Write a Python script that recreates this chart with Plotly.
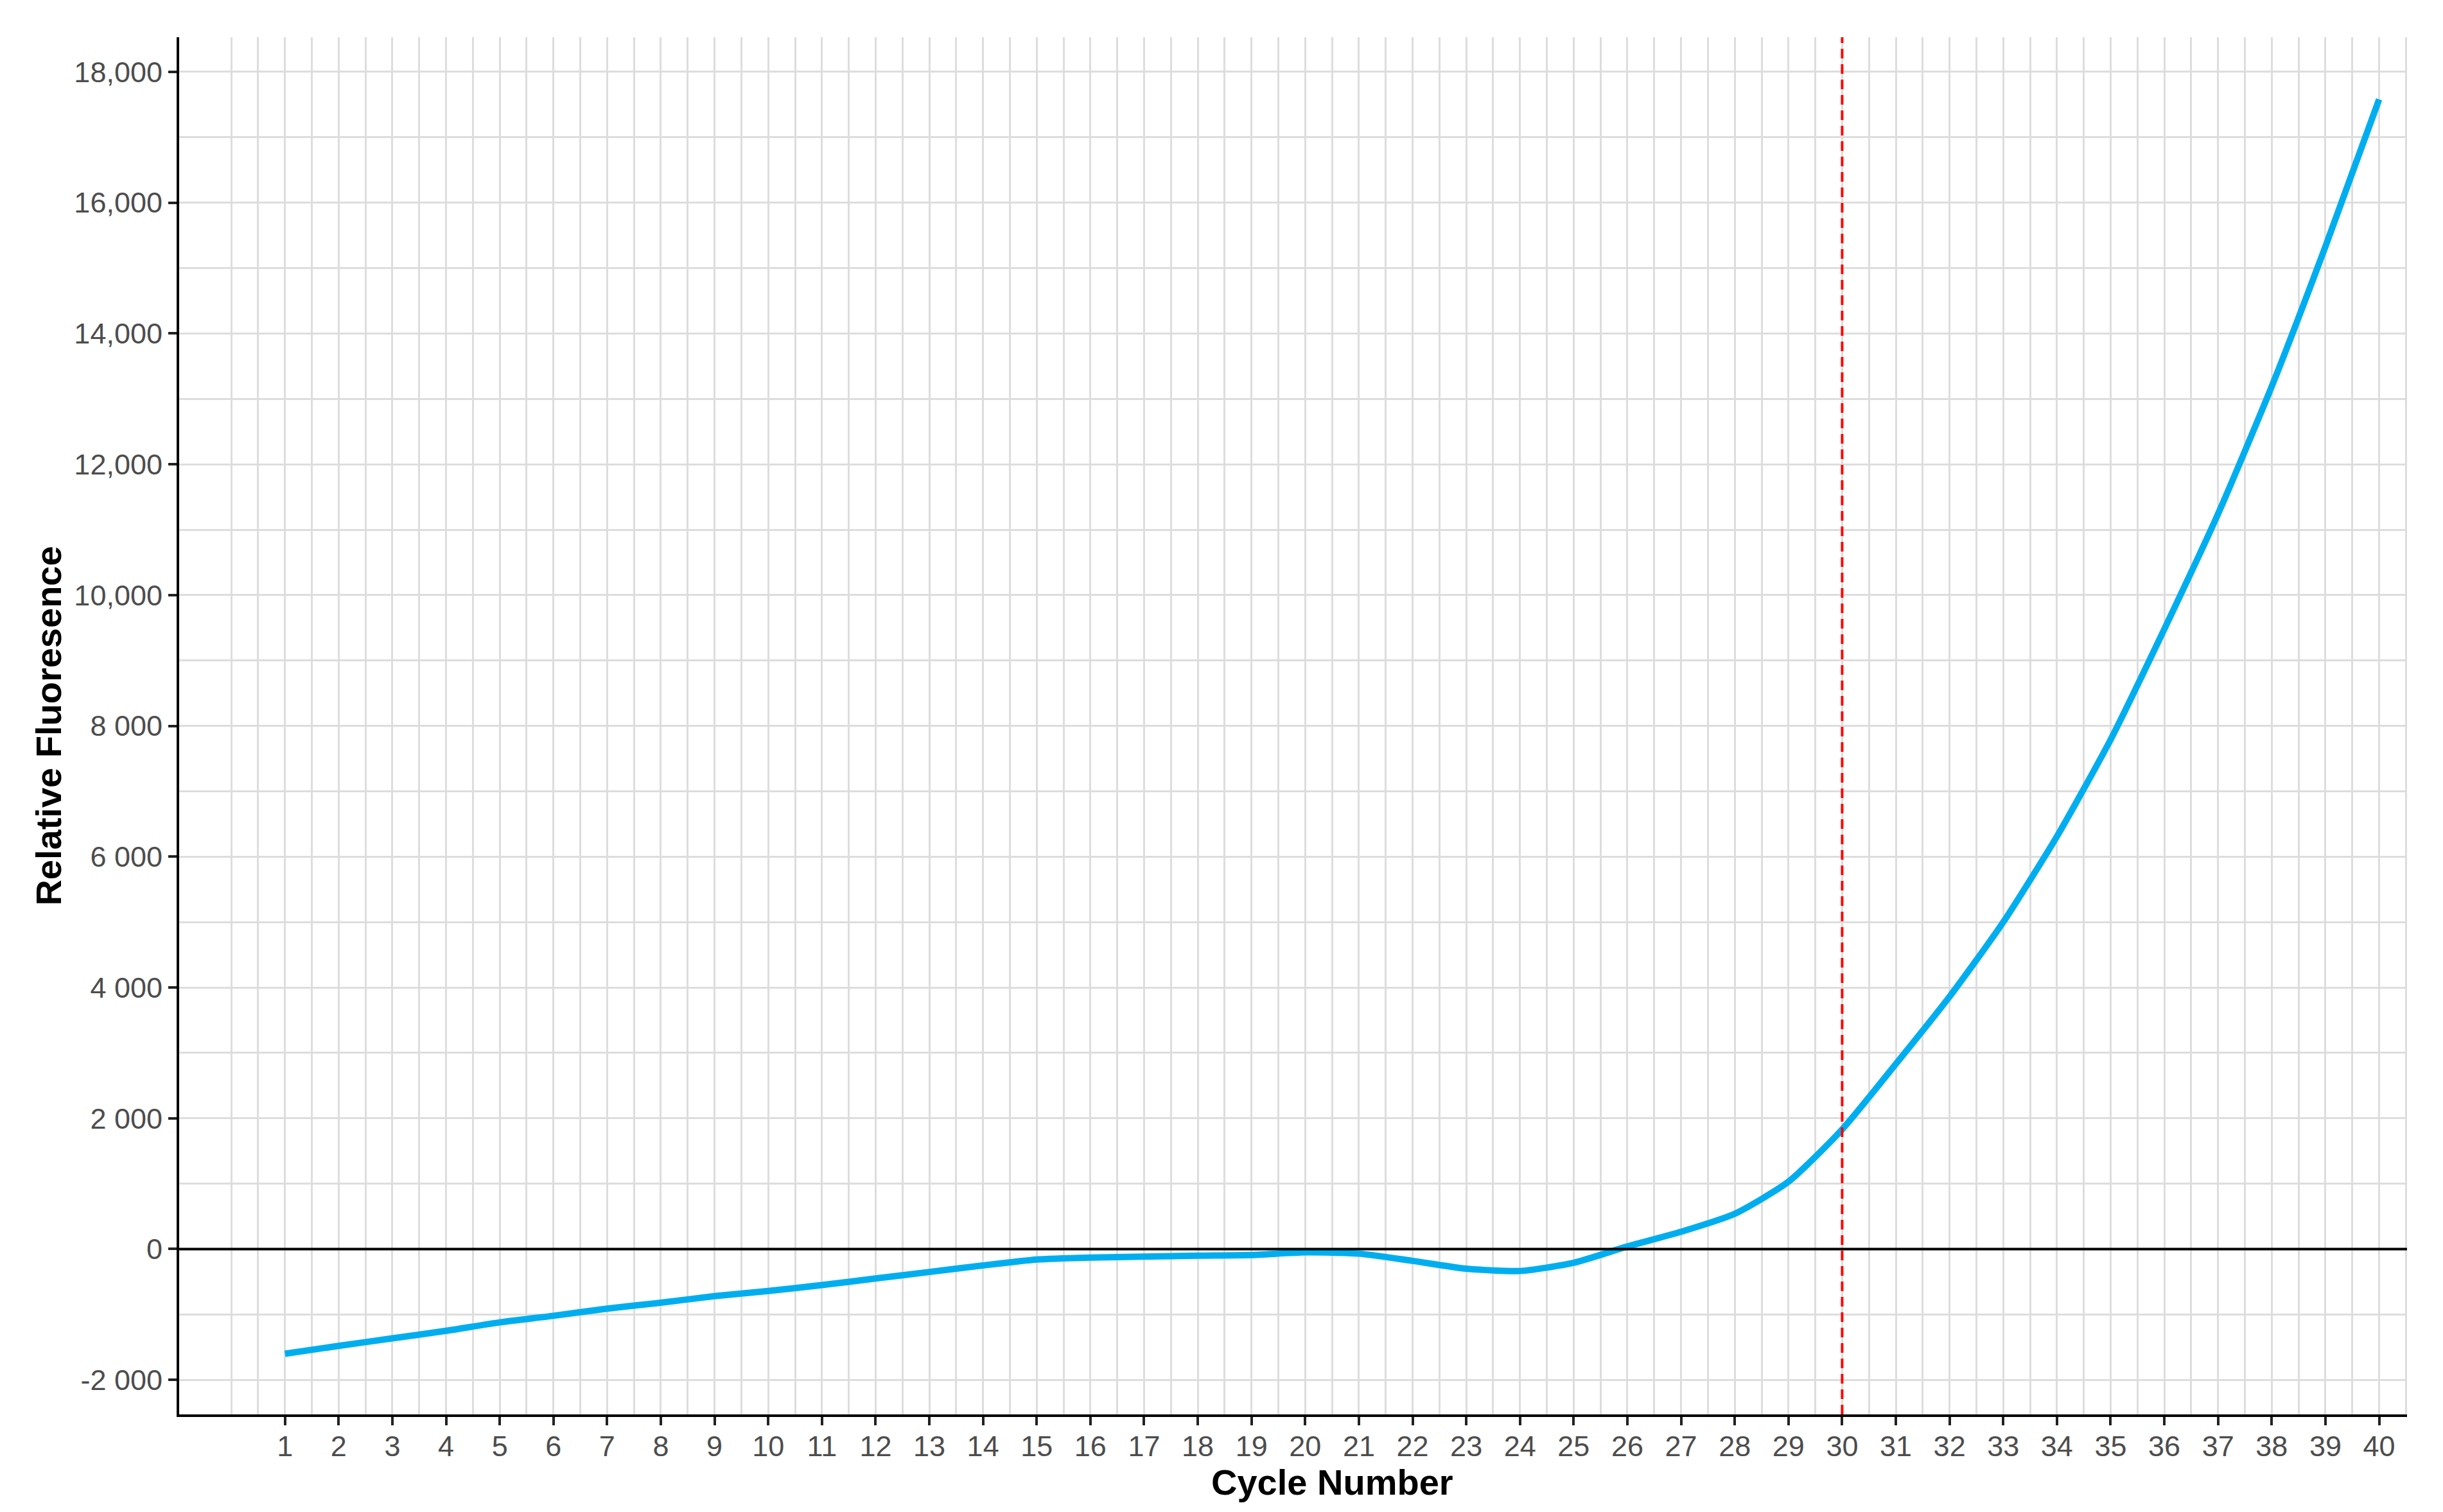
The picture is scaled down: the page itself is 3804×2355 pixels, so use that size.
import plotly.graph_objects as go

cycles = list(range(1, 41))
fluorescence = [-1600, -1480, -1365, -1250, -1120, -1020, -910, -820, -720, -640,
                -550, -450, -350, -250, -160, -130, -115, -100, -90, -50,
                -70, -180, -300, -335, -210, 40, 265, 540, 1030, 1830,
                2830, 3860, 5000, 6310, 7790, 9480, 11240, 13190, 15330, 17580]
threshold_cycle = 30
y_tick_vals = [-2000, 0, 2000, 4000, 6000, 8000, 10000, 12000, 14000, 16000, 18000]
y_tick_text = ["-2 000", "0", "2 000", "4 000", "6 000", "8 000",
               "10,000", "12,000", "14,000", "16,000", "18,000"]

# page body has an 8px default margin; size the figure so it fits the window
W, H = 3796, 2347
FONT = "Liberation Sans, Arial, sans-serif"
GRID = "#DDDDDD"

fig = go.Figure()

fig.add_trace(go.Scatter(
    x=cycles, y=fluorescence, mode="lines",
    line=dict(color="#00AEEF", width=10, shape="spline", smoothing=0.6),
    showlegend=False,
))

shapes = [
    dict(type="line", xref="paper", yref="y", x0=0, x1=1, y0=0, y1=0,
         line=dict(color="black", width=4)),
    dict(type="line", xref="x", yref="paper", x0=threshold_cycle, x1=threshold_cycle,
         y0=0, y1=1, line=dict(color="#FF0000", width=4, dash="15px,9px")),
]
fig.update_layout(shapes=shapes)

fig.add_annotation(
    text="Cycle Number", xref="paper", yref="paper", x=0.5175, y=0,
    xanchor="center", yanchor="middle", yshift=-105, showarrow=False,
    font=dict(size=56, color="black", family=FONT, weight="bold"),
)

fig.update_layout(
    width=W, height=H,
    paper_bgcolor="white", plot_bgcolor="white",
    margin=dict(l=271, r=56, t=50, b=152),
    font=dict(family=FONT, size=45, color="#4D4D4D"),
    xaxis=dict(
        range=[-0.97, 40.52],
        tickmode="array", tickvals=cycles, ticktext=[str(c) for c in cycles],
        ticks="outside", ticklen=13, tickwidth=4, tickcolor="#222222",
        ticklabelstandoff=-6,
        showline=True, linecolor="black", linewidth=4,
        showgrid=True, gridcolor=GRID, gridwidth=3,
        minor=dict(tickmode="array", tickvals=[i * 0.5 for i in range(0, 82)],
                   showgrid=True, gridcolor=GRID, gridwidth=3, ticks=""),
        zeroline=False,
        tickfont=dict(size=45, color="#4D4D4D"),
    ),
    yaxis=dict(
        range=[-2528, 18530],
        tickmode="array", tickvals=y_tick_vals, ticktext=y_tick_text,
        ticks="outside", ticklen=13, tickwidth=4, tickcolor="#222222",
        showline=True, linecolor="black", linewidth=4,
        showgrid=True, gridcolor=GRID, gridwidth=3,
        minor=dict(dtick=1000, showgrid=True, gridcolor=GRID, gridwidth=3, ticks=""),
        zeroline=False,
        tickfont=dict(size=45, color="#4D4D4D"),
        title=dict(text="Relative Fluoresence",
                   font=dict(size=56, color="black", family=FONT, weight="bold"),
                   standoff=3),
    ),
)

fig.write_html("out.html")
